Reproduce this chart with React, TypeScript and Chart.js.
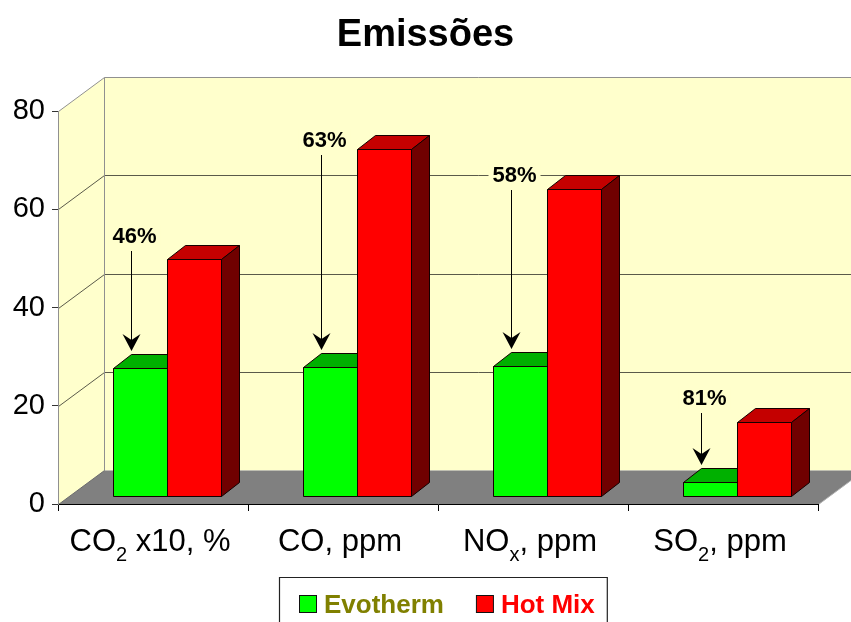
import React, { useEffect, useRef } from 'react';
import { Chart, registerables } from 'chart.js';

Chart.register(...registerables);

// ---------- data ----------
const categories = ['CO₂ x10, %', 'CO, ppm', 'NOₓ, ppm', 'SO₂, ppm'];
const seriesNames = ['Evotherm', 'Hot Mix'];
const evothermValues = [26, 26.2, 26.4, 2.9];
const hotMixValues = [48.2, 70.6, 62.4, 15.1];
const yMin = 0;
const yMax = 80;
const yStep = 20;
const reductionLabels = ['46%', '63%', '58%', '81%'];
const reductionLabelLevels = [51.5, 71, 64, 18.5];

// ---------- styles ----------
const FONT = "'Liberation Sans', Arial, Helvetica, sans-serif";
const WALL_DX = 46;
const WALL_DY = -34;
const BAR_SX = 14;
const BAR_SY = -8;
const BAR_DX = 18;
const BAR_DY = -14;
const WALL_COLOR = '#FFFFCC';
const FLOOR_COLOR = '#808080';
const faceColors = [
  { front: '#00FF00', top: '#00B000', side: '#007000' },
  { front: '#FF0000', top: '#C40000', side: '#700000' },
];
const legendTextColors = ['#808000', '#FF0000'];

const SUB_MAP: Record<string, string> = { '₂': '2', 'ₓ': 'x' };

function poly(ctx: CanvasRenderingContext2D, pts: number[][], fill: string) {
  ctx.beginPath();
  ctx.moveTo(pts[0][0], pts[0][1]);
  for (let i = 1; i < pts.length; i++) ctx.lineTo(pts[i][0], pts[i][1]);
  ctx.closePath();
  ctx.fillStyle = fill;
  ctx.fill();
  ctx.stroke();
}

function line(ctx: CanvasRenderingContext2D, x1: number, y1: number, x2: number, y2: number) {
  ctx.beginPath();
  ctx.moveTo(x1, y1);
  ctx.lineTo(x2, y2);
  ctx.stroke();
}

const scenePlugin = {
  id: 'scene3d',
  beforeDraw(chart: any) {
    const { ctx, chartArea: a, scales } = chart;
    const ys = scales.y;
    const L = Math.round(a.left) + 0.5;
    const R = Math.round(a.right) + 0.5;
    const T = Math.round(a.top) + 0.5;
    const B = Math.round(a.bottom) + 0.5;
    ctx.save();
    // side wall + back wall
    ctx.fillStyle = WALL_COLOR;
    ctx.beginPath();
    ctx.moveTo(L, T);
    ctx.lineTo(L + WALL_DX, T + WALL_DY);
    ctx.lineTo(L + WALL_DX, B + WALL_DY);
    ctx.lineTo(L, B);
    ctx.closePath();
    ctx.fill();
    ctx.fillRect(L + WALL_DX, T + WALL_DY, R - L + 2, B - T);
    // grid lines
    ctx.lineWidth = 1;
    ctx.strokeStyle = '#5a5a4a';
    ys.ticks.forEach((t: any) => {
      if (t.value <= yMin || t.value >= yMax) return;
      const py = Math.round(ys.getPixelForValue(t.value)) + 0.5;
      line(ctx, L, py, L + WALL_DX, py + WALL_DY);
      line(ctx, L + WALL_DX, py + WALL_DY, R + WALL_DX + 2, py + WALL_DY);
    });
    // wall edges
    ctx.strokeStyle = '#909090';
    line(ctx, L, T, L + WALL_DX, T + WALL_DY);
    line(ctx, L + WALL_DX, T + WALL_DY, R + WALL_DX + 2, T + WALL_DY);
    line(ctx, L + WALL_DX, T + WALL_DY, L + WALL_DX, B + WALL_DY);
    // floor
    ctx.fillStyle = FLOOR_COLOR;
    ctx.beginPath();
    ctx.moveTo(L, B);
    ctx.lineTo(R, B);
    ctx.lineTo(R + WALL_DX, B + WALL_DY);
    ctx.lineTo(L + WALL_DX, B + WALL_DY);
    ctx.closePath();
    ctx.fill();
    ctx.strokeStyle = '#6a6a6a';
    line(ctx, L, B, L + WALL_DX, B + WALL_DY);
    ctx.strokeStyle = '#b0b0b0';
    line(ctx, R, B, R + WALL_DX, B + WALL_DY);
    ctx.restore();
  },
  beforeDatasetsDraw(chart: any) {
    const { ctx } = chart;
    const n = chart.data.labels.length;
    ctx.save();
    ctx.lineWidth = 1;
    ctx.strokeStyle = '#140000';
    ctx.lineJoin = 'miter';
    for (let i = 0; i < n; i++) {
      chart.data.datasets.forEach((_ds: any, di: number) => {
        if (!chart.isDatasetVisible(di)) return;
        const el = chart.getDatasetMeta(di).data[i];
        const { x, y, base, width } = el.getProps(['x', 'y', 'base', 'width'], true);
        const l = Math.round(x - width / 2 + BAR_SX) + 0.5;
        const r = Math.round(x + width / 2 + BAR_SX) + 0.5;
        const t = Math.round(y + BAR_SY) + 0.5;
        const b = Math.round(base + BAR_SY) + 0.5;
        const c = faceColors[di];
        poly(ctx, [[l, t], [r, t], [r, b], [l, b]], c.front);
        poly(ctx, [[l, t], [l + BAR_DX, t + BAR_DY], [r + BAR_DX, t + BAR_DY], [r, t]], c.top);
        poly(ctx, [[r, t], [r + BAR_DX, t + BAR_DY], [r + BAR_DX, b + BAR_DY], [r, b]], c.side);
      });
    }
    // reduction annotations with arrows
    const gMeta = chart.getDatasetMeta(0);
    const ys = chart.scales.y;
    reductionLabels.forEach((txt, i) => {
      const el = gMeta.data[i];
      const { x, y } = el.getProps(['x', 'y'], true);
      const ax = Math.round(x + BAR_SX - 9) + 0.5;
      const tipY = Math.round(y + BAR_SY + BAR_DY) - 3;
      const lb = Math.round(ys.getPixelForValue(reductionLabelLevels[i]) + BAR_SY);
      ctx.font = `bold 22px ${FONT}`;
      const w = ctx.measureText(txt).width;
      ctx.fillStyle = WALL_COLOR;
      ctx.fillRect(ax + 3 - w / 2 - 4, lb - 18, w + 8, 22);
      ctx.fillStyle = '#000';
      ctx.textAlign = 'center';
      ctx.textBaseline = 'alphabetic';
      ctx.fillText(txt, ax + 3, lb);
      ctx.strokeStyle = '#000';
      ctx.lineWidth = 1;
      line(ctx, ax, lb + 8, ax, tipY - 8);
      ctx.beginPath();
      ctx.moveTo(ax, tipY);
      ctx.lineTo(ax - 9, tipY - 17);
      ctx.lineTo(ax, tipY - 11);
      ctx.lineTo(ax + 9, tipY - 17);
      ctx.closePath();
      ctx.fill();
    });
    ctx.restore();
    return false;
  },
  afterDraw(chart: any) {
    const { ctx } = chart;
    const xs = chart.scales.x;
    ctx.save();
    // category labels with subscripts
    const mainFont = `31px ${FONT}`;
    const subFont = `20px ${FONT}`;
    const baseline = 551;
    ctx.fillStyle = '#000';
    ctx.textAlign = 'left';
    ctx.textBaseline = 'alphabetic';
    (chart.data.labels as string[]).forEach((lab, i) => {
      const segs: { text: string; sub: boolean }[] = [];
      for (const ch of lab) {
        const sub = ch in SUB_MAP;
        const c = sub ? SUB_MAP[ch] : ch;
        const last = segs[segs.length - 1];
        if (last && last.sub === sub) last.text += c;
        else segs.push({ text: c, sub });
      }
      let total = 0;
      segs.forEach((s) => {
        ctx.font = s.sub ? subFont : mainFont;
        total += ctx.measureText(s.text).width;
      });
      let cx = xs.getPixelForValue(i) - 3 - total / 2;
      segs.forEach((s) => {
        ctx.font = s.sub ? subFont : mainFont;
        ctx.fillText(s.text, cx, s.sub ? baseline + 10 : baseline);
        cx += ctx.measureText(s.text).width;
      });
    });

    // legend
    const box = 18;
    const gapBoxText = 7;
    const gapItems = 32;
    ctx.font = `bold 26px ${FONT}`;
    const items = chart.data.datasets.map((ds: any, di: number) => ({
      text: ds.label as string,
      fill: ds.backgroundColor as string,
      color: legendTextColors[di],
      w: ctx.measureText(ds.label).width,
    }));
    const rowW = items.reduce((s: number, it: any) => s + box + gapBoxText + it.w, 0) + gapItems * (items.length - 1);
    const centerX = chart.width / 2 + 21;
    let lx = Math.round(centerX - rowW / 2);
    const boxLeft = lx - 19.5;
    const boxRight = lx + rowW + 12.5;
    const boxTop = 577.5;
    ctx.strokeStyle = '#222';
    ctx.lineWidth = 1.2;
    ctx.beginPath();
    ctx.moveTo(boxLeft, chart.height + 2);
    ctx.lineTo(boxLeft, boxTop);
    ctx.lineTo(boxRight, boxTop);
    ctx.lineTo(boxRight, chart.height + 2);
    ctx.stroke();
    ctx.lineWidth = 1;
    items.forEach((it: any) => {
      ctx.fillStyle = it.fill;
      ctx.strokeStyle = '#111';
      ctx.fillRect(lx + 0.5, 595.5, box - 1, box - 1);
      ctx.strokeRect(lx + 0.5, 595.5, box - 1, box - 1);
      ctx.fillStyle = it.color;
      ctx.font = `bold 26px ${FONT}`;
      ctx.fillText(it.text, lx + box + gapBoxText, 613);
      lx += box + gapBoxText + it.w + gapItems;
    });
    ctx.restore();
  },
};

export default function App() {
  const canvasRef = useRef<HTMLCanvasElement | null>(null);

  useEffect(() => {
    const canvas = canvasRef.current;
    if (!canvas) return;
    const chart = new Chart(canvas, {
      type: 'bar',
      data: {
        labels: categories,
        datasets: [
          { label: seriesNames[0], data: evothermValues, backgroundColor: faceColors[0].front, borderColor: '#000' },
          { label: seriesNames[1], data: hotMixValues, backgroundColor: faceColors[1].front, borderColor: '#000' },
        ],
      },
      options: {
        responsive: false,
        animation: false,
        devicePixelRatio: 1,
        layout: { padding: 0 },
        datasets: { bar: { categoryPercentage: 0.57, barPercentage: 1 } } as any,
        plugins: {
          legend: { display: false },
          tooltip: { enabled: false },
          title: {
            display: true,
            text: 'Emissões',
            color: '#000',
            font: { family: FONT, size: 38, weight: 'bold', lineHeight: 1.2 },
            padding: { top: 13, bottom: 52.4 },
          },
        },
        scales: {
          x: {
            grid: { display: true, drawOnChartArea: false, drawTicks: true, tickLength: 7, color: '#000', offset: true },
            border: { display: true, color: '#000', width: 1 },
            ticks: { display: false },
            afterFit: (s: any) => { s.height = 118; },
          } as any,
          y: {
            min: yMin,
            max: yMax,
            ticks: { stepSize: yStep, padding: 7, color: '#000', font: { family: FONT, size: 29 } },
            grid: { drawOnChartArea: false, drawTicks: true, tickLength: 6, color: '#333' },
            border: { display: true, color: '#909090' },
            afterFit: (s: any) => { s.width = 58; },
          } as any,
          yDepth: {
            position: 'right',
            min: yMin,
            max: yMax,
            ticks: { display: false },
            grid: { display: false, drawTicks: false },
            border: { display: false },
            afterFit: (s: any) => { s.width = 33; },
          } as any,
        },
      },
      plugins: [scenePlugin as any],
    });
    return () => chart.destroy();
  }, []);

  return (
    <div style={{ position: 'absolute', left: 0, top: 0, width: 851, height: 622 }}>
      <canvas ref={canvasRef} width={851} height={622} style={{ display: 'block' }} />
    </div>
  );
}
